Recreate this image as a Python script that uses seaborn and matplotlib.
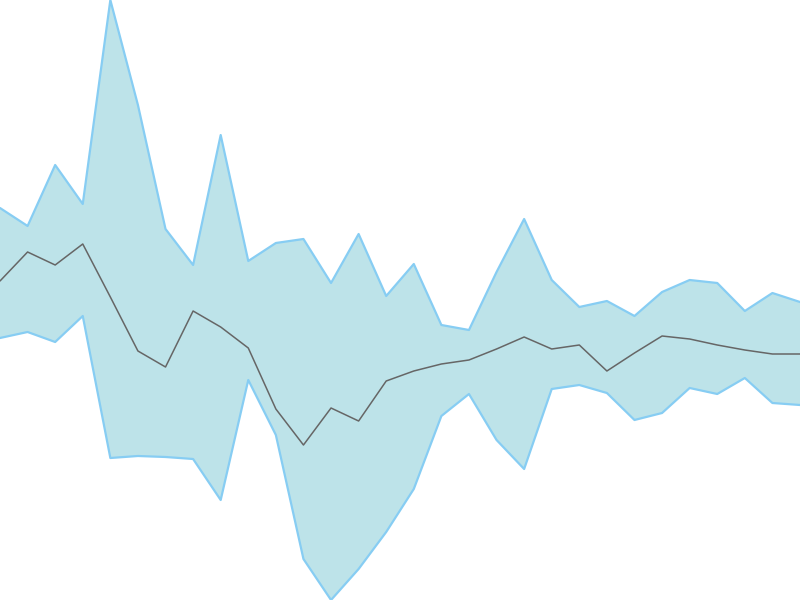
import numpy as np
import pandas as pd
import matplotlib
matplotlib.use("Agg")
import matplotlib.pyplot as plt
import seaborn as sns

# band values
upper = [392, 374, 435, 396, 600, 495, 371, 335, 465, 339, 357, 361, 317, 366, 304,
         336, 275, 270, 328, 381, 320, 293, 299, 284, 308, 320, 317, 289, 307, 298]
middle = [319, 348, 335, 356, 303, 249, 233, 289, 273, 252, 191, 155, 192, 179, 219,
          229, 236, 240, 251, 263, 251, 255, 229, 247, 264, 261, 255, 250, 246, 246]
lower = [262, 268, 258, 284, 142, 144, 143, 141, 100, 220, 165, 41, 0, 31, 68,
         111, 184, 206, 160, 131, 211, 215, 207, 180, 187, 212, 206, 222, 197, 195]
steps = list(range(len(middle)))

df = pd.DataFrame({"step": steps, "upper": upper, "middle": middle, "lower": lower})

sns.set_style("white")
fig = plt.figure(figsize=(8, 6), dpi=100)
ax = fig.add_axes([0, 0, 1, 1])

ax.fill_between(df["step"], df["lower"], df["upper"], color="#bde3e9", linewidth=0)
sns.lineplot(data=df, x="step", y="upper", ax=ax, color="#87cdf3", linewidth=1.6)
sns.lineplot(data=df, x="step", y="lower", ax=ax, color="#87cdf3", linewidth=1.6)
sns.lineplot(data=df, x="step", y="middle", ax=ax, color="#666666", linewidth=1.1)

ax.set_xlim(0, len(steps) - 1)
ax.set_ylim(0, 600)
ax.set_axis_off()

fig.savefig("out.png", dpi=100)
